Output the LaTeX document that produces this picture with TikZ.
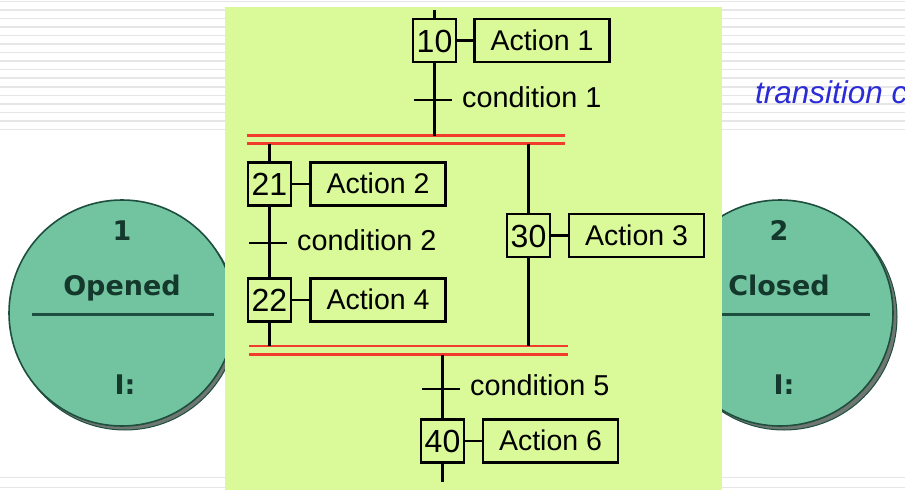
\documentclass[tikz,border=0pt]{standalone}
\usepackage{fontspec}
\setmainfont{Liberation Sans}
\newfontfamily\dejavu{DejaVu Sans}
\definecolor{panelgreen}{HTML}{DAFA9A}
\definecolor{discfill}{HTML}{72C4A1}
\definecolor{discedge}{HTML}{1E4F3E}
\definecolor{discshadow}{HTML}{6F7772}
\definecolor{disctext}{HTML}{14382C}
\definecolor{stripe}{HTML}{E6E6E6}
\definecolor{barred}{HTML}{F23B2C}
\definecolor{bluetext}{HTML}{2B2BD8}
\tikzset{
  stepbox/.style={draw=black,line width=2.2pt,fill=panelgreen,minimum width=43pt,minimum height=43pt,inner sep=0pt,font=\fontsize{32}{34}\selectfont,text height=23pt,text depth=0pt},
  actionbox/.style={draw=black,line width=2.2pt,fill=panelgreen,minimum width=135pt,minimum height=43pt,inner sep=0pt,font=\fontsize{28.5}{30}\selectfont,text height=19pt,text depth=0pt},
  cond/.style={anchor=base west,inner sep=0pt,font=\fontsize{28.8}{30}\selectfont},
  tick/.style={fill=black,minimum width=38pt,minimum height=2.2pt,inner sep=0pt},
  bar/.style={fill=barred,minimum height=2.4pt,inner sep=0pt},
  link/.style={draw=black,line width=2.2pt},
  disc/.style={circle,draw=discedge,line width=1.6pt,fill=discfill,minimum size=226pt,inner sep=0pt},
  shadowdisc/.style={circle,draw=discedge,line width=1pt,fill=discshadow,minimum size=226pt,inner sep=0pt},
  disclabel/.style={anchor=base,inner sep=0pt,text=disctext,font=\dejavu\bfseries\fontsize{27}{29}\selectfont},
  stripeline/.style={draw=stripe,line width=1.5pt},
  divider/.style={draw=discedge,line width=2.2pt}
}
\begin{document}
\begin{tikzpicture}[x=1pt,y=-1pt]
\useasboundingbox (0,0) rectangle (905,490);
\clip (0,0) rectangle (905,490);
\fill[white] (0,0) rectangle (905,490);
% background stripes
\draw[stripeline] (0,1.5) -- (905,1.5);
\foreach \k in {0,...,14}{\draw[stripeline] (0,{10+8.53*\k}) -- (905,{10+8.53*\k});}
\draw[stripeline] (0,477.5) -- (905,477.5);
\draw[stripeline] (0,487.5) -- (905,487.5);
% blue text
\node[anchor=base west,inner sep=0pt,text=bluetext,font=\itshape\fontsize{31.5}{33}\selectfont] (bluenote) at (755,103) {transition c};
% discs
\node[shadowdisc] (d1s) at (125,317) {};
\node[disc] (d1) at (122,313) {};
\coordinate (d1l) at (32,314.5);
\coordinate (d1r) at (214,314.5);
\draw[divider] (d1l) -- (d1r);
\node[disclabel] (d1n) at (122,240) {1};
\node[disclabel] (d1t) at (122,295) {Opened};
\node[disclabel] (d1i) at (125,394) {I:};
\node[shadowdisc] (d2s) at (784,317) {};
\node[disc] (d2) at (780,313) {};
\coordinate (d2l) at (700,314.5);
\coordinate (d2r) at (870,314.5);
\draw[divider] (d2l) -- (d2r);
\node[disclabel] (d2n) at (779,240) {2};
\node[disclabel] (d2t) at (779,295) {Closed};
\node[disclabel] (d2i) at (784,394) {I:};
% panel
\fill[panelgreen] (225,7) rectangle (722,490);
% bars
\node[bar,minimum width=318pt] (b1a) at (406,135.5) {};
\node[bar,minimum width=318pt] (b1b) at (406,143.5) {};
\node[bar,minimum width=319pt] (b2a) at (408.5,346) {};
\node[bar,minimum width=319pt] (b2b) at (408.5,354.5) {};
% steps and actions
\node[stepbox] (s10) at (434.5,40.5) {10};
\node[actionbox] (a10) at (542,40.5) {Action 1};
\node[stepbox] (s21) at (269.5,184) {21};
\node[actionbox] (a21) at (378,184) {Action 2};
\node[stepbox] (s22) at (269.5,300) {22};
\node[actionbox] (a22) at (378,300) {Action 4};
\node[stepbox] (s30) at (528.5,235.5) {30};
\node[actionbox] (a30) at (636.5,235.5) {Action 3};
\node[stepbox] (s40) at (442.5,441) {40};
\node[actionbox] (a40) at (550.5,441) {Action 6};
% free ends
\coordinate (top) at (434.5,10);
\coordinate (bottom) at (442.5,482);
% ticks
\node[tick] (t1) at (433,100) {};
\node[tick] (t2) at (268,243) {};
\node[tick] (t5) at (441,389) {};
% connectors
\draw[link] (top) -- (s10.north);
\draw[link] (s10.east) -- (a10.west);
\draw[link] (s10.south) -- (s10.south |- b1a.center);
\draw[link] (s21.north |- b1b.center) -- (s21.north);
\draw[link] (s21.east) -- (a21.west);
\draw[link] (s21.south) -- (s22.north);
\draw[link] (s22.east) -- (a22.west);
\draw[link] (s22.south) -- (s22.south |- b2a.center);
\draw[link] (s30.north |- b1b.center) -- (s30.north);
\draw[link] (s30.east) -- (a30.west);
\draw[link] (s30.south) -- (s30.south |- b2a.center);
\draw[link] (s40.north |- b2b.center) -- (s40.north);
\draw[link] (s40.east) -- (a40.west);
\draw[link] (s40.south) -- (bottom);
% conditions
\node[cond] (c1) at (462,107) {condition 1};
\node[cond] (c2) at (297,250) {condition 2};
\node[cond] (c5) at (470,395.5) {condition 5};
\end{tikzpicture}
\end{document}
